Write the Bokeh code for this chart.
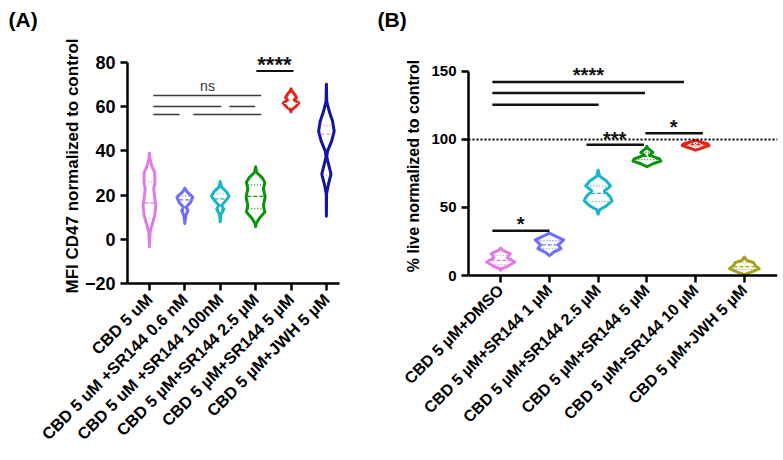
import numpy as np
from bokeh.plotting import figure
from bokeh.models import FixedTicker, Label, Span, LinearAxis, Title
from bokeh.layouts import row
from bokeh.embed import file_html
from bokeh.resources import INLINE

FONT = "Liberation Sans"

# ---------------- Panel A data ----------------
A_labels = ["CBD 5 uM", "CBD 5 uM +SR144 0.6 nM", "CBD 5 uM +SR144 100nM",
            "CBD 5 µM+SR144 2.5 µM", "CBD 5 µM+SR144 5 µM", "CBD 5 µM+JWH 5 µM"]
A_colors = ["#E27BE6", "#6F6FFA", "#1CB4CB", "#0C920C", "#E0251D", "#15159C"]
A_median_colors = ["#E27BE6", "#6F6FFA", "#1CB4CB", "#0C920C", "#FFFFFF", "#E27BE6"]

# violin outlines: value levels and half widths (category units)
A_v0 = [-3.5, 0.4, 3.3, 6.3, 10.8, 15.3, 18.2, 22.7, 25.6, 30.1, 33.0, 36.0, 38.9]
A_w0 = [0, .01, .02, .07, .15, .18, .155, .12, .155, .15, .07, .02, 0]
A_v1 = [7.1, 8.6, 10.8, 13.1, 14.5, 16.8, 19.1, 21.3, 23.1]
A_w1 = [0, .01, .03, .09, .035, .165, .225, .07, 0]
A_v2 = [7.9, 11.2, 13.6, 15.4, 17.6, 19.5, 21.3, 23.6, 26.1]
A_w2 = [0, .02, .10, .04, .165, .25, .185, .04, 0]
A_v3 = [5.7, 7.1, 9.4, 12.3, 15.3, 19.1, 22.8, 25.8, 28.0, 30.2, 32.8]
A_w3 = [0, .015, .10, .26, .22, .27, .22, .26, .175, .03, 0]
A_v4 = [57.6, 58.6, 60.1, 61.6, 63.1, 64.1, 65.6, 66.8, 68.0]
A_w4 = [0, .02, .14, .22, .085, .155, .10, .035, 0]
A_v5 = [10.4, 20.6, 25.1, 29.5, 34.0, 37.3, 40.0, 44.5, 48.9, 53.4, 57.9, 62.4, 70.1]
A_w5 = [0, .005, .06, .13, .06, .01, .035, .15, .22, .175, .08, .01, 0]
A_medians = [16.5, 17.8, 18.3, 19.4, 61.5, 47.5]
A_q1 = [9.4, 13.0, 13.5, 13.9, 59.8, 28.8]
A_q3 = [26.0, 19.6, 20.5, 24.6, 63.5, 51.5]

A_bar_x0 = [0.11, 0.11, 2.26, 0.11, 1.24]
A_bar_x1 = [3.16, 2.03, 2.99, 0.85, 3.16]
A_bar_y = [65.0, 60.1, 60.1, 56.4, 56.4]
A_star_bar = (3.02, 4.07, 76.1)
A_ns = ("ns", 1.64, 69.5)
A_stars = ("****", 3.53, 79.2)

# ---------------- Panel B data ----------------
B_labels = ["CBD 5 µM+DMSO", "CBD 5 µM+SR144 1 µM", "CBD 5 µM+SR144 2.5 µM",
            "CBD 5 µM+SR144 5 µM", "CBD 5 µM+SR144 10 µM", "CBD 5 µM+JWH 5 µM"]
B_colors = ["#E27BE6", "#6F6FFA", "#1CB4CB", "#0C920C", "#E0251D", "#A3A21E"]

B_v0 = [3.9, 5.2, 7.0, 10.0, 13.1, 16.0, 18.5, 20.2]
B_w0 = [0, .03, .155, .29, .14, .195, .05, 0]
B_v1 = [14.6, 17.0, 19.8, 22.5, 26.2, 29.0, 31.2]
B_w1 = [0, .08, .235, .185, .29, .125, 0]
B_v2 = [45.1, 48.3, 51.2, 54.8, 58.0, 62.1, 65.8, 69.4, 73.0, 77.4]
B_w2 = [0, .03, .17, .285, .245, .13, .255, .17, .03, 0]
B_v3 = [79.9, 82.1, 84.0, 85.7, 88.4, 90.5, 93.4, 94.9]
B_w3 = [0, .125, .285, .26, .05, .125, .02, 0]
B_v4 = [92.1, 93.8, 95.5, 96.9, 98.1, 99.3]
B_w4 = [0, .14, .275, .24, .105, 0]
B_v5 = [0.7, 2.7, 5.1, 7.5, 9.5, 11.2, 13.6]
B_w5 = [0, .155, .305, .22, .19, .05, 0]
B_medians = [11.1, 22.6, 60.4, 87.6, 96.1, 6.5]
B_q1 = [8.0, 19.7, 54.4, 85.2, 95.0, 4.5]
B_q3 = [14.8, 25.7, 65.8, 90.5, 97.0, 9.5]

B_bar_x0 = [-0.17, -0.17, -0.17, 1.76, 2.97, -0.17]
B_bar_x1 = [3.76, 2.96, 2.01, 2.94, 4.15, 1.00]
B_bar_y = [142.2, 134.0, 125.5, 96.1, 104.6, 33.0]
B_texts = [("****", 1.80, 147.1), ("***", 2.34, 100.5), ("*", 3.55, 109.4), ("*", 0.41, 37.9)]
B_ref_line = 100

A_ticks = [-20, 0, 20, 40, 60, 80]
B_ticks = [0, 50, 100, 150]

H = 452
TOP = 48        # frame top (px) shared by both panels
BOTTOM = 285    # frame bottom (px) shared by both panels


def style_axis(ax):
    ax.axis_line_width = 2.5
    ax.axis_line_color = "black"
    ax.major_tick_line_width = 2.5
    ax.major_tick_line_color = "black"
    ax.major_tick_out = 7
    ax.major_tick_in = 0
    ax.minor_tick_line_color = None
    ax.major_label_text_font = FONT
    ax.major_label_text_font_style = "bold"
    ax.major_label_text_color = "black"


def style_fig(p, tick_size, label_size, ylabel, standoff, letter, letter_off):
    style_axis(p.xaxis[0])
    style_axis(p.yaxis[0])
    p.yaxis.major_label_text_font_size = tick_size
    p.yaxis.axis_label = ylabel
    p.yaxis.axis_label_text_font = FONT
    p.yaxis.axis_label_text_font_style = "bold"
    p.yaxis.axis_label_text_font_size = label_size
    p.yaxis.axis_label_text_color = "black"
    p.yaxis.axis_label_standoff = standoff
    p.xgrid.visible = False
    p.ygrid.visible = False
    p.outline_line_color = None
    p.xaxis.ticker = FixedTicker(ticks=list(range(6)))
    p.title.text = letter
    p.title.align = "left"
    p.title.offset = letter_off
    p.title.text_font = FONT
    p.title.text_font_size = "21px"
    p.title.text_font_style = "bold"
    p.title.text_color = "black"
    # thin empty spacer between panel letter and the plot area
    p.add_layout(Title(text=" ", text_font_size="1px"), "above")


def draw_violins(p, vals, widths, colors, med_colors, meds, q1s, q3s, lw):
    for i, (v, w) in enumerate(zip(vals, widths)):
        v = np.array(v, float)
        w = np.array(w, float)
        xs = np.concatenate([i + w, (i - w)[::-1]])
        ys = np.concatenate([v, v[::-1]])
        p.patch(xs, ys, fill_color="white", line_color=colors[i], line_width=lw,
                line_join="round")
        for lvl, dash in ((meds[i], "4 2"), (q1s[i], "1 2"), (q3s[i], "1 2")):
            hw = max(np.interp(lvl, v, w) - 0.03, 0.01)
            p.segment(i - hw, lvl, i + hw, lvl, line_color=med_colors[i],
                      line_width=1.2, line_dash=dash)


# ---------------- Figure A ----------------
WA = 375
a_px = (285 - 62) / 100.0
pa = figure(width=WA, height=H, x_range=(-0.62, 5.37),
            y_range=(-20 - (BOTTOM - 285) / a_px, 80 + (62 - TOP) / a_px),
            output_backend="svg", toolbar_location=None,
            min_border_left=127, min_border_right=WA - 339, min_border_top=TOP,
            min_border_bottom=H - BOTTOM, background_fill_color="white")
style_fig(pa, "18px", "17px", "MFI CD47 normalized to control", 0, "(A)", 8 - 127)
pa.yaxis.ticker = FixedTicker(ticks=A_ticks)
pa.yaxis.bounds = (-20, 80)
pa.xaxis.major_label_overrides = {i: s for i, s in enumerate(A_labels)}
pa.xaxis.major_label_orientation = np.pi / 4
pa.xaxis.major_label_standoff = 6
pa.xaxis.major_label_text_font_size = "16.5px"

draw_violins(pa, [A_v0, A_v1, A_v2, A_v3, A_v4, A_v5],
             [A_w0, A_w1, A_w2, A_w3, A_w4, A_w5], A_colors, A_median_colors,
             A_medians, A_q1, A_q3, 3)
pa.segment(A_bar_x0, A_bar_y, A_bar_x1, A_bar_y, line_color="#3a3a3a", line_width=1.5)
pa.segment(A_star_bar[0], A_star_bar[2], A_star_bar[1], A_star_bar[2],
           line_color="#111111", line_width=2)
pa.add_layout(Label(x=A_ns[1], y=A_ns[2], text=A_ns[0],
                    text_align="center", text_baseline="alphabetic",
                    text_font=FONT, text_font_size="14px", text_color="#333333"))
pa.add_layout(Label(x=A_stars[1], y=A_stars[2], text=A_stars[0],
                    text_align="center", text_baseline="alphabetic",
                    text_font=FONT, text_font_size="22px", text_font_style="bold",
                    text_color="#111111"))

# ---------------- Figure B ----------------
WB = 778 - WA
b_px = (277 - 71) / 150.0
pb = figure(width=WB, height=H, x_range=(-0.66, 5.68),
            y_range=(-(BOTTOM - 277) / b_px, 150 + (71 - TOP) / b_px),
            output_backend="svg", toolbar_location=None,
            min_border_left=468 - WA, min_border_right=WB - (777 - WA), min_border_top=TOP,
            min_border_bottom=H - BOTTOM, background_fill_color="white")
style_fig(pb, "15px", "16px", "% live normalized to control", 6, "(B)", 377 - 468)
pb.yaxis.ticker = FixedTicker(ticks=B_ticks)
pb.yaxis.bounds = (0, 150)
main_x = pb.below[0]
main_x.fixed_location = 0
main_x.major_label_overrides = {i: "" for i in range(6)}

label_axis = LinearAxis(ticker=FixedTicker(ticks=list(range(6))),
                        major_label_overrides={i: s for i, s in enumerate(B_labels)},
                        axis_line_color=None, major_tick_line_color=None,
                        minor_tick_line_color=None, major_tick_out=0, major_tick_in=0,
                        major_label_standoff=4, major_label_orientation=np.pi / 4,
                        major_label_text_font=FONT, major_label_text_font_size="16px",
                        major_label_text_font_style="bold", major_label_text_color="black")
pb.add_layout(label_axis, "below")
pb.below = [label_axis, main_x]

pb.add_layout(Span(location=B_ref_line, dimension="width", line_color="black",
                   line_width=2, line_dash="2 2"))
draw_violins(pb, [B_v0, B_v1, B_v2, B_v3, B_v4, B_v5],
             [B_w0, B_w1, B_w2, B_w3, B_w4, B_w5], B_colors, B_colors,
             B_medians, B_q1, B_q3, 3)
pb.segment(B_bar_x0, B_bar_y, B_bar_x1, B_bar_y, line_color="#111111", line_width=2.5)
for t, x, y in B_texts:
    pb.add_layout(Label(x=x, y=y, text=t, text_align="center", text_baseline="alphabetic",
                        text_font=FONT, text_font_size="20px", text_font_style="bold",
                        text_color="#111111"))

layout = row(pa, pb)
open("out.html", "w").write(file_html(layout, INLINE))
